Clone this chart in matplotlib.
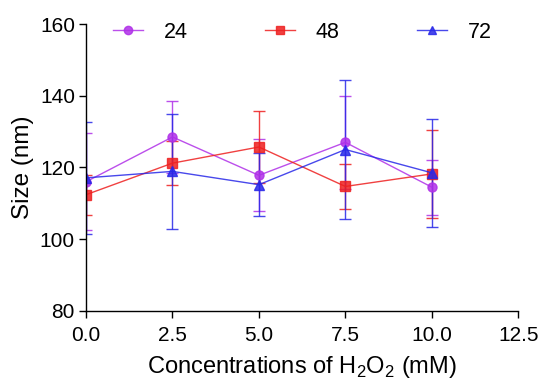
import matplotlib
matplotlib.use("Agg")
import matplotlib.pyplot as plt
from matplotlib.lines import Line2D

plt.rcParams["font.family"] = ["Liberation Sans", "DejaVu Sans"]
plt.rcParams["mathtext.fontset"] = "custom"
plt.rcParams["mathtext.rm"] = "Liberation Sans"

# H2O2 concentration (mM)
conc = [0.0, 2.5, 5.0, 7.5, 10.0]

# particle size (nm) +- error, per incubation time (h)
size_24 = [116.0, 128.5, 117.8, 127.0, 114.5]
err_24 = [13.5, 10.0, 10.0, 13.0, 7.7]
size_48 = [112.4, 121.2, 125.7, 114.7, 118.2]
err_48 = [5.6, 6.2, 10.0, 6.2, 12.2]
size_72 = [117.1, 118.9, 115.2, 125.0, 118.5]
err_72 = [15.7, 16.0, 8.8, 19.5, 15.0]

labels = ["24", "48", "72"]
colors = ["#B030E8", "#EE2020", "#2828E8"]
markers = ["o", "s", "^"]

fig = plt.figure(figsize=(5.41, 3.81), dpi=100)
ax = fig.add_axes([0.159, 0.184, 0.799, 0.753])

handles = []
for y, e, lab, c, m in zip([size_24, size_48, size_72],
                           [err_24, err_48, err_72],
                           labels, colors, markers):
    ax.errorbar(conc, y, yerr=e, color=c, marker=m, markersize=6.5,
                linewidth=1.0, elinewidth=1.0, capsize=4, capthick=1.0,
                alpha=0.85)
    handles.append(Line2D([], [], color=c, marker=m, markersize=6,
                          linewidth=1.0, alpha=0.85, label=lab))

ax.set_xlim(0, 12.5)
ax.set_ylim(80, 160)
ax.set_xticks([0.0, 2.5, 5.0, 7.5, 10.0, 12.5])
ax.set_xticklabels(["0.0", "2.5", "5.0", "7.5", "10.0", "12.5"])
ax.set_yticks([80, 100, 120, 140, 160])

for s in ("top", "right"):
    ax.spines[s].set_visible(False)
for s in ("left", "bottom"):
    ax.spines[s].set_linewidth(1.0)
ax.tick_params(direction="out", length=5, width=1.0, labelsize=15, pad=3)
ax.tick_params(axis="x", pad=6)

ax.set_xlabel(r"Concentrations of H$_2$O$_2$ (mM)", fontsize=17, labelpad=6)
ax.set_ylabel("Size (nm)", fontsize=17.5, labelpad=4)

fig.legend(handles=handles, loc="center left", ncol=3, frameon=False,
           fontsize=15.5, bbox_to_anchor=(113 / 541, 1 - 32 / 381),
           bbox_transform=fig.transFigure, borderpad=0, borderaxespad=0,
           columnspacing=3.6, handlelength=1.4, handletextpad=0.95)

fig.savefig("out.png", dpi=100)
